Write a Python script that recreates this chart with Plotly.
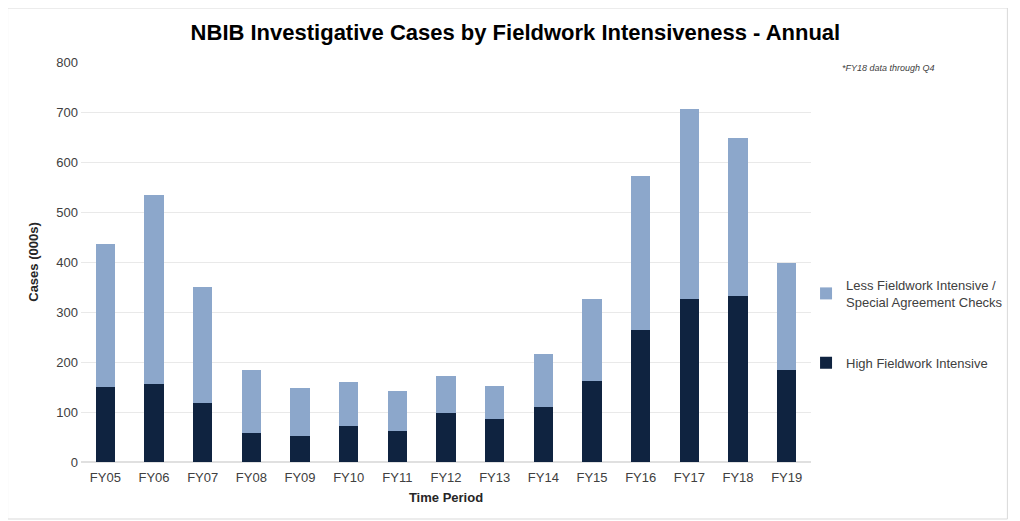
import plotly.graph_objects as go

years = ["FY05", "FY06", "FY07", "FY08", "FY09", "FY10", "FY11", "FY12",
         "FY13", "FY14", "FY15", "FY16", "FY17", "FY18", "FY19"]
high_fieldwork = [151, 156, 119, 58, 53, 73, 62, 98, 86, 111, 163, 265, 327, 333, 185]
totals = [437, 535, 351, 185, 148, 161, 142, 173, 152, 217, 327, 572, 707, 649, 399]
less_fieldwork = [t - h for t, h in zip(totals, high_fieldwork)]

FONT = "Liberation Sans, Arial, sans-serif"

fig = go.Figure()
fig.add_trace(go.Bar(
    x=years, y=high_fieldwork, name="High Fieldwork Intensive",
    marker=dict(color="#0F2340", line=dict(width=0)),
    legendgroup="high", legendrank=2,
))
fig.add_trace(go.Bar(
    x=years, y=less_fieldwork,
    name="Less Fieldwork Intensive /<br>Special Agreement Checks",
    marker=dict(color="#8CA7CB", line=dict(width=0)),
    legendgroup="less", legendrank=1,
))

OFF = 8  # page body margin
W, H = 1020 - OFF, 521 - OFF
# plot area in page pixel coords
PX0, PX1, PY0, PY1 = 81, 817, 62, 462
L, R = PX0 - OFF, W - (PX1 - OFF)
T, B = PY0 - OFF, H - (PY1 - OFF)
pw, ph = PX1 - PX0, PY1 - PY0

def px(p):
    return (p - PX0) / pw

def py(p):
    return (PY1 - p) / ph

fig.update_layout(
    width=W, height=H,
    margin=dict(l=L, r=R, t=T, b=B),
    barmode="stack", bargap=0.6,
    paper_bgcolor="white", plot_bgcolor="white",
    font=dict(family=FONT, size=13, color="#404040"),
    title=dict(text="<b>NBIB Investigative Cases by Fieldwork Intensiveness - Annual</b>",
               x=px(519), xanchor="center", y=1 - (32 - OFF) / H, yanchor="middle",
               xref="paper",
               font=dict(size=22, color="#000000", family=FONT)),
    xaxis=dict(title=dict(text="<b>Time Period</b>", font=dict(size=13, color="#262626"), standoff=8),
               showgrid=False, showline=False, ticks="", ticklabelstandoff=6,
               tickfont=dict(size=13, color="#404040")),
    yaxis=dict(title=dict(text="<b>Cases (000s)</b>", font=dict(size=13, color="#262626"), standoff=14),
               range=[0, 800], dtick=100, showgrid=True, gridcolor="#E9E9E9", gridwidth=1,
               zeroline=True, zerolinecolor="#E0E0E0", showline=False, ticks="",
               ticklabelstandoff=2,
               tickfont=dict(size=13, color="#404040")),
    legend=dict(x=px(812), y=py(270), xanchor="left", yanchor="top",
                traceorder="grouped", tracegroupgap=41,
                font=dict(size=13, color="#404040", family=FONT),
                itemwidth=30, bgcolor="rgba(0,0,0,0)"),
    showlegend=True,
)

fig.add_annotation(text="<i>*FY18 data through Q4</i>", xref="paper", yref="paper",
                   x=px(895), y=py(68), xanchor="center", yanchor="middle",
                   showarrow=False, font=dict(size=9, color="#404040", family=FONT))

fig.add_shape(type="rect", xref="paper", yref="paper",
              x0=px(7), x1=px(1015), y0=py(519), y1=py(8),
              line=dict(color="#D9D9D9", width=1), layer="below")

fig.write_html("out.html")
